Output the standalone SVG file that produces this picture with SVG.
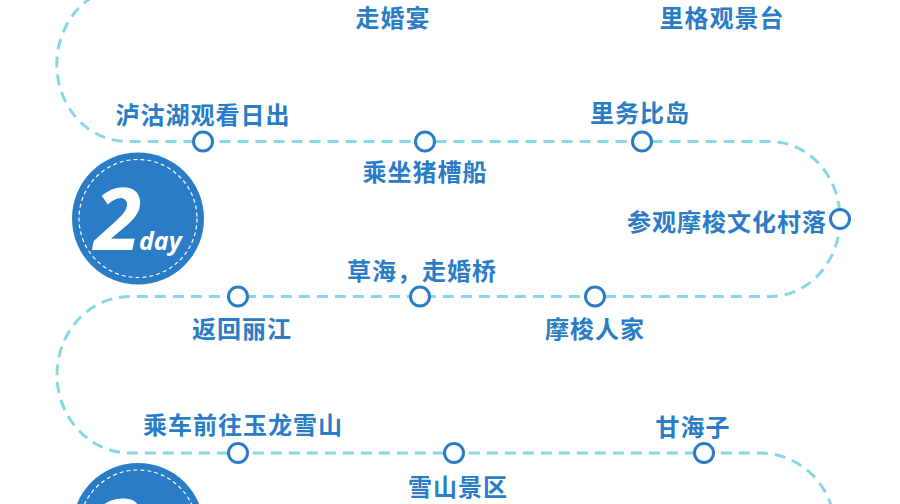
<svg xmlns="http://www.w3.org/2000/svg" width="900" height="504" viewBox="0 0 900 504">
<defs>
<style>
.lbl{font-family:"Noto Sans CJK SC","Noto Sans",sans-serif;font-size:24px;font-weight:700;fill:#2a7cc6;text-anchor:middle;dominant-baseline:central;letter-spacing:1px}
.stop{fill:#fff;stroke:#2a7cc6;stroke-width:3}
.route{fill:none;stroke:#86d8e5;stroke-width:3;stroke-dasharray:11 7}
.badge{fill:#2a7cc6}
.ring{fill:none;stroke:#fff;stroke-width:1.2;stroke-dasharray:4 3}
.num{font-family:"Open Sans","DejaVu Sans",sans-serif;font-style:italic;font-weight:700;fill:#fff}
</style>
</defs>
<rect width="900" height="504" fill="#fff"/>
<g id="connectors">
<path class="route" d="M127,-13 A70 77 0 0 0 127,141.5 L770,141.5 A70 77.5 0 0 1 770,296.5 L130,296.5 A73 78.25 0 0 0 130,453 L760,453 A75 77 0 0 1 835,530"/>
</g>
<g id="badge-2day">
<circle class="badge" cx="138" cy="218.5" r="66"/>
<circle class="ring" cx="138" cy="218.5" r="59"/>
<text class="num" x="94" y="250" font-size="86">2</text>
<text class="num" x="139" y="250" font-size="25" font-weight="600">day</text>
</g>
<g id="badge-3day">
<circle class="badge" cx="138" cy="529" r="66"/>
<circle class="ring" cx="138" cy="529" r="59"/>
<text class="num" x="94" y="561" font-size="86">3</text>
</g>
<g id="n-zouhunyan"><text class="lbl" x="393" y="16">走婚宴</text></g>
<g id="n-ligeguanjingtai"><text class="lbl" x="722" y="16">里格观景台</text></g>
<g id="n-richu"><circle class="stop" cx="203" cy="141.5" r="9.5"/><text class="lbl" x="203" y="113">泸沽湖观看日出</text></g>
<g id="n-zhucaochuan"><circle class="stop" cx="425" cy="141.5" r="9.5"/><text class="lbl" x="425" y="170">乘坐猪槽船</text></g>
<g id="n-liwubidao"><circle class="stop" cx="642" cy="141.5" r="9.5"/><text class="lbl" x="640" y="111">里务比岛</text></g>
<g id="n-cunluo"><circle class="stop" cx="840" cy="219" r="9.5"/><text class="lbl" x="727" y="220">参观摩梭文化村落</text></g>
<g id="n-caohai"><circle class="stop" cx="420" cy="296.5" r="9.5"/><text class="lbl" x="422" y="269">草海，走婚桥</text></g>
<g id="n-fanhui"><circle class="stop" cx="238" cy="296.5" r="9.5"/><text class="lbl" x="242" y="327">返回丽江</text></g>
<g id="n-mosuorenjia"><circle class="stop" cx="595" cy="296.5" r="9.5"/><text class="lbl" x="595" y="327">摩梭人家</text></g>
<g id="n-yulong"><circle class="stop" cx="238" cy="453" r="9.5"/><text class="lbl" x="243" y="423">乘车前往玉龙雪山</text></g>
<g id="n-xueshan"><circle class="stop" cx="454" cy="453" r="9.5"/><text class="lbl" x="458" y="485">雪山景区</text></g>
<g id="n-ganhaizi"><circle class="stop" cx="704" cy="453" r="9.5"/><text class="lbl" x="693" y="425">甘海子</text></g>
</svg>
